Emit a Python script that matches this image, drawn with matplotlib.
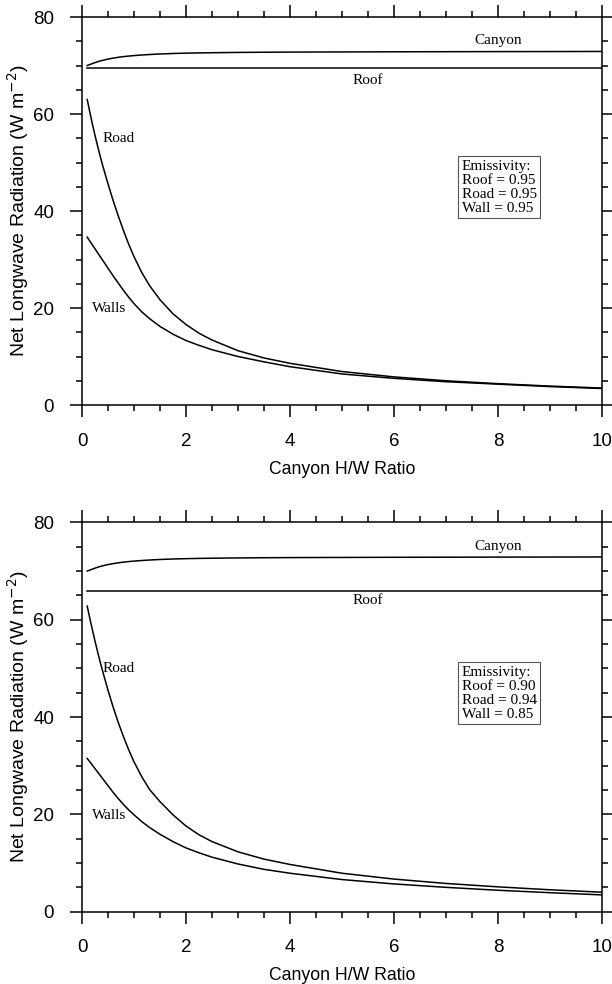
import matplotlib
matplotlib.use("Agg")
import matplotlib.pyplot as plt
from matplotlib.ticker import MultipleLocator

# canyon H/W ratio values where the curves were read
hw = [0.1, 0.15, 0.2, 0.25, 0.3, 0.35, 0.4, 0.5, 0.6, 0.7, 0.8, 0.9, 1.0, 1.15, 1.3,
      1.5, 1.75, 2.0, 2.25, 2.5, 3.0, 3.5, 4.0, 5.0, 6.0, 7.0, 8.0, 9.0, 10.0]

# top panel: emissivity 0.95 everywhere
canyon_a = [70.0, 70.2, 70.4, 70.6, 70.78, 70.94, 71.08, 71.33, 71.53, 71.7, 71.84, 71.95,
            72.05, 72.17, 72.27, 72.38, 72.48, 72.55, 72.6, 72.64, 72.7, 72.74, 72.77,
            72.8, 72.83, 72.85, 72.87, 72.88, 72.9]
roof_a = [69.4] * len(hw)
road_a = [63.0, 60.4, 57.9, 55.6, 53.4, 51.3, 49.3, 45.6, 42.1, 38.9, 35.9, 33.1, 30.6,
          27.3, 24.6, 21.7, 18.8, 16.6, 14.8, 13.4, 11.2, 9.7, 8.6, 6.9, 5.8, 5.0, 4.4,
          3.9, 3.5]
walls_a = [34.6, 33.8, 33.0, 32.2, 31.4, 30.6, 29.8, 28.2, 26.6, 25.1, 23.6, 22.2, 20.9,
           19.2, 17.8, 16.2, 14.6, 13.3, 12.3, 11.4, 10.0, 8.9, 7.9, 6.4, 5.5, 4.8, 4.3,
           3.8, 3.4]

# bottom panel: roof 0.90, road 0.94, wall 0.85
canyon_b = [70.0, 70.2, 70.4, 70.6, 70.78, 70.94, 71.08, 71.33, 71.53, 71.7, 71.84, 71.95,
            72.05, 72.17, 72.27, 72.38, 72.48, 72.55, 72.6, 72.64, 72.7, 72.74, 72.77,
            72.8, 72.83, 72.85, 72.87, 72.88, 72.9]
roof_b = [65.9] * len(hw)
road_b = [62.8, 60.3, 57.9, 55.6, 53.4, 51.3, 49.3, 45.5, 42.0, 38.8, 35.9, 33.2, 30.8,
          27.7, 25.1, 22.6, 19.9, 17.6, 15.8, 14.4, 12.3, 10.8, 9.7, 7.9, 6.7, 5.8, 5.1,
          4.5, 4.0]
walls_b = [31.5, 30.8, 30.1, 29.4, 28.7, 28.0, 27.3, 25.9, 24.5, 23.2, 22.0, 20.9, 19.9,
           18.5, 17.3, 15.9, 14.4, 13.1, 12.1, 11.2, 9.8, 8.7, 7.9, 6.6, 5.7, 5.0, 4.4,
           3.9, 3.45]

box_a = "Emissivity:\nRoof = 0.95\nRoad = 0.95\nWall = 0.95"
box_b = "Emissivity:\nRoof = 0.90\nRoad = 0.94\nWall = 0.85"

SANS = "Liberation Sans"
SERIF = "Liberation Serif"


def panel(ax, canyon, roof, road, walls, box, roof_lab_y, road_lab_y):
    for ys in (canyon, roof, road, walls):
        ax.plot(hw, ys, color="black", lw=1.1, solid_joinstyle="round")

    ax.set_xlim(0, 10)
    ax.set_ylim(0, 80)
    ax.xaxis.set_major_locator(MultipleLocator(2))
    ax.xaxis.set_minor_locator(MultipleLocator(0.5))
    ax.yaxis.set_major_locator(MultipleLocator(20))
    ax.yaxis.set_minor_locator(MultipleLocator(5))
    ax.tick_params(which="both", direction="out", top=True, right=True,
                   width=1.1, colors="black")
    ax.tick_params(which="major", length=8.5, pad=11.5, labelsize=13.5)
    ax.tick_params(which="minor", length=4)
    for lab in ax.get_xticklabels() + ax.get_yticklabels():
        lab.set_family(SANS)
    for s in ax.spines.values():
        s.set_linewidth(1.1)

    ax.set_xlabel("Canyon H/W Ratio", family=SANS, fontsize=12.7)
    ax.xaxis.set_label_coords(0.5, -0.165)
    ax.xaxis.label.set_va("center")
    ax.set_ylabel("Net Longwave Radiation (W m$^{-2}$)", family=SANS, fontsize=14)
    ax.yaxis.set_label_coords(-0.123, 0.5)
    ax.yaxis.label.set_va("center")

    ax.text(8.0, 75.1, "Canyon", family=SERIF, fontsize=11, ha="center", va="center")
    ax.text(5.5, roof_lab_y, "Roof", family=SERIF, fontsize=11, ha="center", va="center")
    ax.text(0.71, road_lab_y, "Road", family=SERIF, fontsize=11, ha="center", va="center")
    ax.text(0.52, 19.8, "Walls", family=SERIF, fontsize=11, ha="center", va="center")
    ax.text(7.3, 44.9, box, family=SERIF, fontsize=11, ha="left", va="center",
            linespacing=1.1,
            bbox=dict(boxstyle="square,pad=0.22", fc="white", ec="#555555", lw=0.8))


fig = plt.figure(figsize=(6.12, 9.84), dpi=100)
ax1 = fig.add_axes([0.134, 0.5884, 0.8497, 0.3943])
ax2 = fig.add_axes([0.134, 0.0735, 0.8497, 0.3956])

panel(ax1, canyon_a, roof_a, road_a, walls_a, box_a, 66.95, 54.85)
panel(ax2, canyon_b, roof_b, road_b, walls_b, box_b, 63.9, 49.9)

fig.savefig("out.png", dpi=100)
